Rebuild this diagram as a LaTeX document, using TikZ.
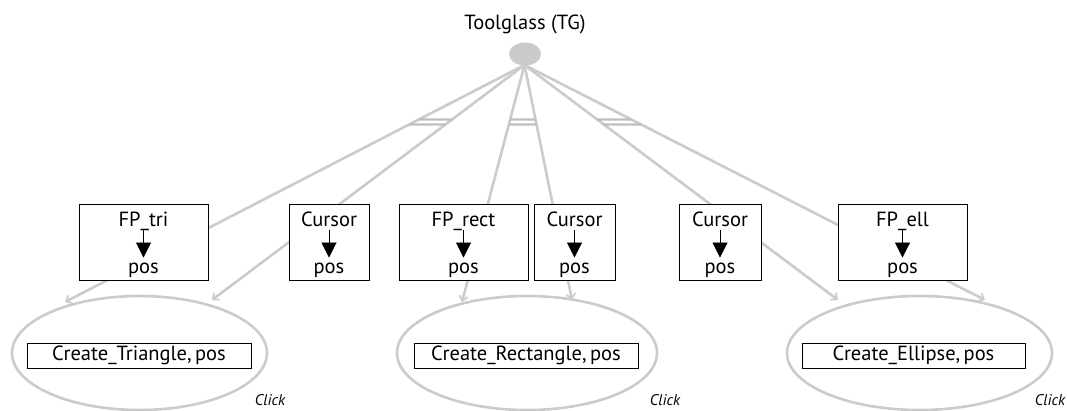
\documentclass[tikz,border=0pt]{standalone}
\usepackage{fontspec}
\setmainfont{PT Sans}
\usetikzlibrary{arrows.meta,shapes.geometric}
\definecolor{lg}{HTML}{CBCBCB}
\definecolor{lgd}{HTML}{BEBEBE}
\tikzset{
  conn/.style={draw=lg, line width=2.6pt, -{Straight Barb[length=5pt,width=9pt,line width=1.6pt]}},
  bar/.style={draw=lgd, line width=2.2pt},
  fbox/.style={draw, line width=0.9pt, fill=white, minimum height=76pt, inner sep=0pt},
  blbl/.style={font=\fontsize{20.5}{20.5}\selectfont, inner sep=0pt},
  inner/.style={draw, line width=0.9pt, fill=white, minimum height=25pt, inner sep=0pt, font=\fontsize{20.5}{20.5}\selectfont},
  oval/.style={ellipse, draw=lg, line width=2.6pt, inner sep=0pt},
  barr/.style={line width=0.8pt, -{Triangle[length=15pt,width=15pt]}},
  clk/.style={font=\fontsize{15.5}{15.5}\selectfont\itshape},
}
\begin{document}
\begin{tikzpicture}[x=1pt,y=-1pt]
\useasboundingbox (0,0) rectangle (1067,410);
% root
\node[font=\fontsize{20.5}{20.5}\selectfont] (tgl) at (525,24) {Toolglass (TG)};
\node[ellipse, fill=lg, minimum width=32pt, minimum height=23pt, inner sep=0pt] (tg) at (525,54) {};
% result ellipses
\node[oval, minimum width=255pt, minimum height=114pt] (e1) at (139.5,353) {};
\node[oval, minimum width=260pt, minimum height=114pt] (e2) at (527,353) {};
\node[oval, minimum width=265pt, minimum height=114pt] (e3) at (919.5,353) {};
% arrow ends
\coordinate (t1) at (65,302);
\coordinate (t2) at (212,300);
\coordinate (t3) at (462,302);
\coordinate (t4) at (572,300);
\coordinate (t5) at (838,300);
\coordinate (t6) at (985,300);
\coordinate (o) at (524.5,65);
\foreach \i in {1,...,6} { \draw[conn] (o) -- (t\i); }
% double bars
\coordinate (ua) at (0,119.5);
\coordinate (ub) at (1067,119.5);
\coordinate (la) at (0,124.5);
\coordinate (lb) at (1067,124.5);
\draw[bar] (intersection of o--t1 and ua--ub) -- (intersection of o--t2 and ua--ub);
\draw[bar] (intersection of o--t1 and la--lb) -- (intersection of o--t2 and la--lb);
\draw[bar] (intersection of o--t3 and ua--ub) -- (intersection of o--t4 and ua--ub);
\draw[bar] (intersection of o--t3 and la--lb) -- (intersection of o--t4 and la--lb);
\draw[bar] (intersection of o--t5 and ua--ub) -- (intersection of o--t6 and ua--ub);
\draw[bar] (intersection of o--t5 and la--lb) -- (intersection of o--t6 and la--lb);
% boxes
\node[fbox, minimum width=129pt] (b1) at (143.5,242) {};
\node[fbox, minimum width=80pt] (b2) at (329,242) {};
\node[fbox, minimum width=129pt] (b3) at (463.5,242) {};
\node[fbox, minimum width=81pt] (b4) at (574.5,242) {};
\node[fbox, minimum width=82pt] (b5) at (720,242) {};
\node[fbox, minimum width=129pt] (b6) at (902.5,242) {};
\foreach \n/\t in {b1/FP\_tri, b2/Cursor, b3/FP\_rect, b4/Cursor, b5/Cursor, b6/FP\_ell} {
  \node[blbl, anchor=base] (\n t) at ([yshift=-23pt]\n.north) {\t};
  \node[blbl, anchor=base] (\n p) at ([yshift=7pt]\n.south) {pos};
  \draw[barr] ([yshift=-26pt]\n.north) -- ([yshift=-54pt]\n.north);
}
% inner rectangles
\node[inner, minimum width=224pt] (c1) at (139,355.5) {Create\_Triangle,\,pos};
\node[inner, minimum width=224pt] (c2) at (526,355.5) {Create\_Rectangle,\,pos};
\node[inner, minimum width=223pt] (c3) at (913.5,355.5) {Create\_Ellipse,\,pos};
% click labels
\node[clk] (k1) at (270,400) {Click};
\node[clk] (k2) at (665,400) {Click};
\node[clk] (k3) at (1050,400) {Click};
\end{tikzpicture}
\end{document}
